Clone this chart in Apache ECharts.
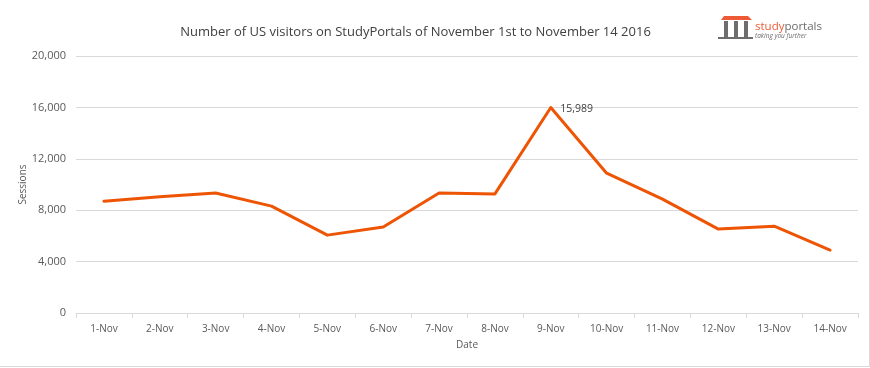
<!DOCTYPE html>
<html>
<head>
<meta charset="utf-8">
<style>html,body{margin:0;padding:0;background:#fff}#c{width:870px;height:368px}</style>
<script src="https://cdn.jsdelivr.net/npm/echarts@6/dist/echarts.min.js"></script>
</head>
<body>
<div id="c"></div>
<script>
const categories = ['1-Nov','2-Nov','3-Nov','4-Nov','5-Nov','6-Nov','7-Nov','8-Nov','9-Nov','10-Nov','11-Nov','12-Nov','13-Nov','14-Nov'];
const sessions = [8700,9040,9340,8320,6060,6690,9340,9270,15989,10880,8860,6530,6760,4900];
const titleText = 'Number of US visitors on StudyPortals of November 1st to November 14 2016';
const font = '"Open Sans","Noto Sans",sans-serif';
const labelled = '9-Nov';
const chart = echarts.init(document.getElementById('c'), null, {renderer:'canvas'});
const dark='#595959', red='#ee5a35';
chart.setOption({
  animation:false,
  backgroundColor:'#fff',
  title:{text:titleText,left:410.5,top:21,textAlign:'center',textStyle:{fontFamily:font,fontSize:13,fontWeight:'normal',color:'#404040'}},
  grid:{left:76,right:12,top:56,bottom:55},
  xAxis:{type:'category',data:categories,boundaryGap:true,name:'Date',nameLocation:'middle',nameGap:27,
    nameTextStyle:{fontFamily:font,fontSize:10,color:dark},
    axisLine:{lineStyle:{color:'#d9d9d9',width:1}},
    axisTick:{show:true,alignWithLabel:false,length:5,lineStyle:{color:'#d9d9d9'}},
    axisLabel:{fontFamily:font,fontSize:10,color:dark,margin:11,interval:0}},
  yAxis:{type:'value',min:0,max:20000,interval:4000,name:'Sessions',nameLocation:'middle',nameGap:48,nameMoveOverlap:false,
    nameTextStyle:{fontFamily:font,fontSize:10,color:dark},
    axisLine:{show:false},axisTick:{show:false},
    splitLine:{lineStyle:{color:'#d9d9d9',width:1}},
    axisLabel:{fontFamily:font,fontSize:11,color:dark,margin:10,formatter:v=>v.toLocaleString('en-US')}},
  series:[{type:'line',data:sessions.map((v,i)=>categories[i]===labelled?{value:v,label:{show:true,position:'right',distance:9,offset:[0,1],
      formatter:p=>p.value.toLocaleString('en-US'),fontFamily:font,fontSize:10.5,color:'#404040'}}:v),
    symbol:'circle',symbolSize:1,showSymbol:true,showAllSymbol:true,smooth:false,lineStyle:{color:'#ed5505',width:3,cap:'round',join:'round'},itemStyle:{color:'#ed5505'}}],
  graphic:[
    {type:'rect',shape:{x:869,y:0,width:1,height:367},style:{fill:'#d9d9d9'},silent:true},
    {type:'rect',shape:{x:0,y:366,width:870,height:1},style:{fill:'#d9d9d9'},silent:true},
    {type:'polygon',shape:{points:[[721,20],[724,16],[748,16],[752,20]]},style:{fill:red}},
    {type:'rect',shape:{x:724,y:21,width:4,height:16},style:{fill:'#6d6d6d'}},
    {type:'rect',shape:{x:734,y:21,width:4,height:16},style:{fill:'#6d6d6d'}},
    {type:'rect',shape:{x:744,y:21,width:4,height:16},style:{fill:'#6d6d6d'}},
    {type:'rect',shape:{x:718,y:37,width:35,height:2},style:{fill:'#6d6d6d'}},
    {type:'text',x:755,y:21,style:{text:'{a|study}{b|portals}',fontFamily:'"Open Sans",sans-serif',rich:{a:{fontSize:11.5,fill:red,fontFamily:'"Open Sans",sans-serif'},b:{fontSize:11.5,fill:'#6d6d6d',fontFamily:'"Open Sans",sans-serif'}}}},
    {type:'text',x:755,y:33,style:{text:'taking you further',fontFamily:'"Open Sans",sans-serif',fontSize:6.5,fontStyle:'italic',fill:'#6d6d6d'}}
  ]
});
</script>
</body>
</html>
